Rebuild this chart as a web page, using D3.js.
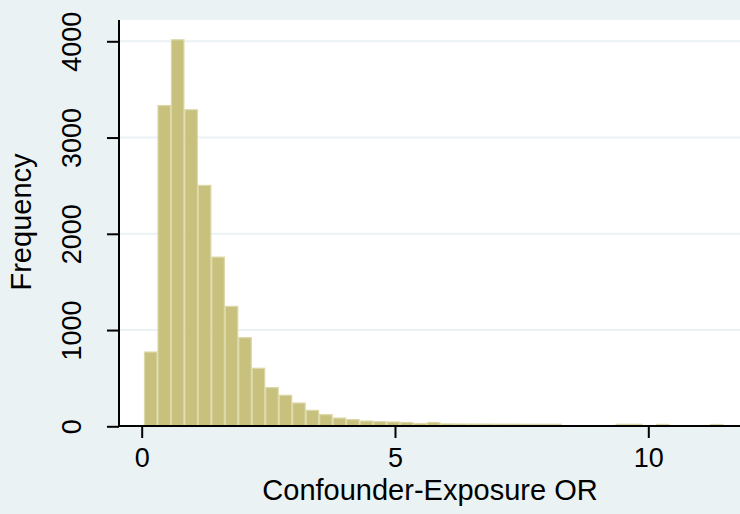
<!DOCTYPE html>
<html>
<head>
<meta charset="utf-8">
<script src="https://cdn.jsdelivr.net/npm/d3@7"></script>
<style>
  body { margin: 0; background: #eaf2f3; }
  svg { display: block; font-family: "Liberation Sans", Arial, sans-serif; }
</style>
</head>
<body>
<svg></svg>
<script>
// histogram bins (start of first bin, width, counts per bin)
const binStart = 0.045;
const binWidth = 0.266;
const counts = [777, 3338, 4021, 3294, 2508, 1763, 1251, 926, 608, 407,
                327, 247, 171, 126, 91, 75, 60, 54, 50, 45,
                34, 45, 30, 29, 28, 28, 27, 27, 26, 26,
                26, 0, 0, 0, 0, 26, 26, 0, 25, 0,
                0, 0, 24];
const xTicks = [0, 5, 10];
const yTicks = [0, 1000, 2000, 3000, 4000];
const xTitle = "Confounder-Exposure OR";
const yTitle = "Frequency";

const w = 740, h = 514;
const plotLeft = 119, plotTop = 20, plotBottom = 426;

let svg = d3.select("svg").attr("width", w).attr("height", h);

let bins = counts.map((c, i) => ({x0: binStart + i * binWidth, x1: binStart + (i + 1) * binWidth, n: c}));

let xScale = d3.scaleLinear().domain([0, 10]).range([141.7, 648.3]);
let yScale = d3.scaleLinear().domain([0, 4000]).range([426.3, 41.3]);

// plot region
svg.append("rect")
  .attr("x", plotLeft).attr("y", plotTop)
  .attr("width", w - plotLeft).attr("height", plotBottom - plotTop)
  .attr("fill", "#ffffff");

// gridlines
svg.append("g").selectAll("line")
  .data(yTicks.filter(d => d > 0))
  .enter().append("line")
  .attr("x1", plotLeft).attr("x2", w)
  .attr("y1", d => yScale(d)).attr("y2", d => yScale(d))
  .attr("stroke", "#eaf2f3").attr("stroke-width", 2);

// bars
svg.append("g").selectAll("rect")
  .data(bins.filter(d => d.n > 0))
  .enter().append("rect")
  .attr("x", d => xScale(d.x0) + 0.5)
  .attr("width", d => xScale(d.x1) - xScale(d.x0) - 1)
  .attr("y", d => yScale(d.n) + 0.5)
  .attr("height", d => Math.max(0, yScale(0) - yScale(d.n) - 0.5))
  .attr("fill", "#c8c07d")
  .attr("stroke", "#ddd8a8")
  .attr("stroke-width", 1.2);

// x axis
let xAxis = d3.axisBottom(xScale).tickValues(xTicks).tickSize(12).tickPadding(8).tickFormat(d3.format("d"));
let gx = svg.append("g")
  .attr("transform", "translate(0," + plotBottom + ")")
  .call(xAxis);
gx.select(".domain").attr("d", "M" + plotLeft + ",0H" + w).attr("stroke", "#000").attr("stroke-width", 2);
gx.selectAll(".tick line").attr("stroke", "#000").attr("stroke-width", 2);
gx.selectAll(".tick text").attr("font-size", 27).attr("fill", "#000").attr("dy", "0.78em")
  .attr("font-family", "Liberation Sans, Arial, sans-serif");

// y axis
let yAxis = d3.axisLeft(yScale).tickValues(yTicks).tickSize(12).tickPadding(0).tickFormat(d3.format("d"));
let gy = svg.append("g")
  .attr("transform", "translate(" + plotLeft + ",0)")
  .call(yAxis);
gy.select(".domain").attr("d", "M0," + plotTop + "V" + (plotBottom + 1)).attr("stroke", "#000").attr("stroke-width", 2);
gy.selectAll(".tick line").attr("stroke", "#000").attr("stroke-width", 2);
gy.selectAll(".tick text")
  .attr("font-size", 27).attr("fill", "#000")
  .attr("font-family", "Liberation Sans, Arial, sans-serif")
  .attr("text-anchor", "middle")
  .attr("x", null).attr("dy", null)
  .attr("transform", "translate(-38,0) rotate(-90)");

// axis titles
svg.append("text")
  .attr("x", 430).attr("y", 500)
  .attr("text-anchor", "middle")
  .attr("font-size", 29)
  .text(xTitle);

svg.append("text")
  .attr("transform", "translate(31,222) rotate(-90)")
  .attr("text-anchor", "middle")
  .attr("font-size", 29)
  .text(yTitle);
</script>
</body>
</html>
